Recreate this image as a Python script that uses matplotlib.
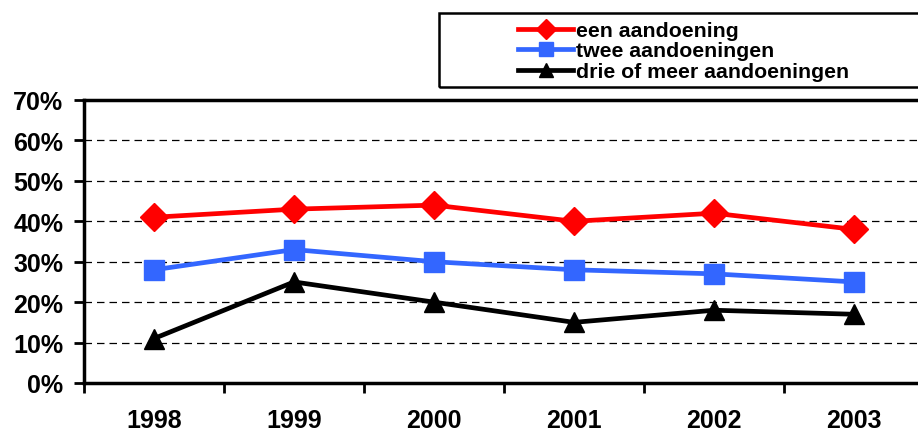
import matplotlib
matplotlib.use("Agg")
import matplotlib.pyplot as plt
from matplotlib.patches import Rectangle
from matplotlib.ticker import FuncFormatter

years = ["1998", "1999", "2000", "2001", "2002", "2003"]
een = [41, 43, 44, 40, 42, 38]
twee = [28, 33, 30, 28, 27, 25]
drie = [11, 25, 20, 15, 18, 17]
labels = ["een aandoening", "twee aandoeningen", "drie of meer aandoeningen"]
yticks = [0, 10, 20, 30, 40, 50, 60, 70]

plt.rcParams['font.family'] = ['Liberation Sans', 'DejaVu Sans']
plt.rcParams['font.weight'] = 'bold'

W, H = 918, 435
fig = plt.figure(figsize=(W / 100, H / 100), dpi=100)
# axes in pixel coords: left 84, right 924, top 101, bottom 384
ax = fig.add_axes([84 / W, 1 - 384 / H, (924 - 84) / W, (384 - 101) / H])

x = list(range(len(years)))
ax.plot(x, een, color='#ff0000', lw=3.4, marker='D', ms=14, label=labels[0], zorder=5)
ax.plot(x, twee, color='#3366ff', lw=3.4, marker='s', ms=14, label=labels[1], zorder=5)
ax.plot(x, drie, color='black', lw=3.4, marker='^', ms=14, label=labels[2], zorder=5)

ax.set_xlim(-0.5, 5.5)
ax.set_ylim(0, 70)
ax.set_yticks(yticks)
ax.yaxis.set_major_formatter(FuncFormatter(lambda v, p: f"{int(v)}%"))
ax.set_xticks(x)
ax.set_xticklabels(years)
ax.set_xticks([i - 0.5 for i in range(len(years) + 1)], minor=True)
ax.tick_params(axis='x', which='major', length=0, pad=18, labelsize=18)
ax.tick_params(axis='x', which='minor', length=7, width=2, direction='out')
ax.tick_params(axis='y', length=7, width=2, pad=8, labelsize=18)

for v in yticks[1:-1]:
    ax.axhline(v, color='black', lw=0.9, ls=(0, (6, 4)), zorder=1)

for s in ['left', 'bottom', 'top']:
    ax.spines[s].set_linewidth(2.5)
ax.spines['right'].set_visible(False)

# legend box
fig.patches.append(Rectangle((439 / W, 1 - 88 / H), (935 - 439) / W, (88 - 14) / H,
                             transform=fig.transFigure, fill=False, lw=1.8,
                             edgecolor='black', figure=fig))
leg = fig.legend(loc='upper left', bbox_to_anchor=(518 / W, 1 - 22 / H),
                 frameon=False, fontsize=15.3, handlelength=2.6, handletextpad=0.15,
                 labelspacing=0.07, borderpad=0, borderaxespad=0, markerscale=0.7)

fig.savefig("out.png", dpi=100)
